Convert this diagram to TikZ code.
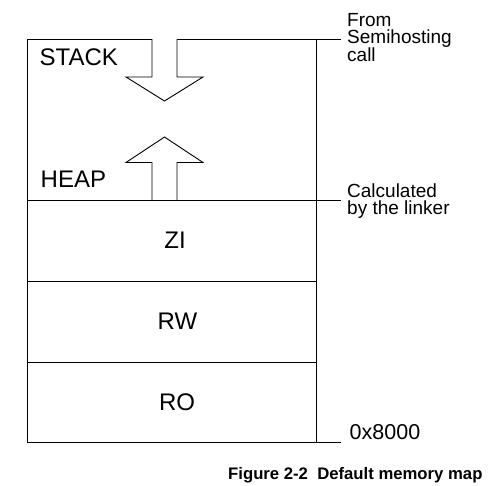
\documentclass[tikz,border=0pt]{standalone}
\usepackage{fontspec}
\setmainfont{Liberation Sans}
\begin{document}
\begin{tikzpicture}[x=1pt,y=-1pt,
  wall/.style={draw=black,line width=0.9pt},
  bigarrow/.style={draw=black,line width=0.9pt,fill=white},
  region/.style={font=\fontsize{24}{24}\selectfont,inner sep=0pt},
  side/.style={font=\fontsize{19}{17}\selectfont,inner sep=0pt,align=left},
  caption/.style={font=\bfseries\fontsize{16.7}{18}\selectfont,inner sep=0pt}]
\useasboundingbox (0,0) rectangle (491,486);
% coordinates
\coordinate (tl) at (27,39);
\coordinate (tr) at (316,39);
\coordinate (te) at (341,39);
\coordinate (hl) at (27,200);
\coordinate (hr) at (316,200);
\coordinate (he) at (341,200);
\coordinate (zl) at (27,281);
\coordinate (zr) at (316,281);
\coordinate (rl) at (27,362);
\coordinate (rr) at (316,362);
\coordinate (bl) at (27,442);
\coordinate (br) at (316,442);
\coordinate (be) at (341,442);
% frame
\draw[wall] (te) -- (tl) -- (bl) -- (be);
\draw[wall] (tr) -- (br);
\draw[wall] (hl) -- (he);
\draw[wall] (zl) -- (zr);
\draw[wall] (rl) -- (rr);
% arrows
\draw[bigarrow] (152,39) -- (152,77) -- (126,77) -- (164.5,101) -- (203,77) -- (177,77) -- (177,39);
\draw[bigarrow] (152,200) -- (152,162.5) -- (126,162.5) -- (164.5,137) -- (203,162.5) -- (177,162.5) -- (177,200);
% labels
\node[region,anchor=base west] (stack) at (39.5,65.5) {STACK};
\node[region,anchor=base west] (heap) at (40.5,188) {HEAP};
\node[region,anchor=base] (zi) at (175,249) {ZI};
\node[region,anchor=base] (rw) at (177.5,330) {RW};
\node[region,anchor=base] (ro) at (177,411) {RO};
\node[side,anchor=base west] (from) at (347,62) {From\\Semihosting\\call};
\node[side,anchor=base west] (calc) at (347,215) {Calculated\\by the linker};
\node[font=\fontsize{21.5}{22}\selectfont,inner sep=0pt,anchor=base west] (addr) at (349.5,440) {0x8000};
\node[caption,anchor=base west] (cap) at (228,479.5) {Figure 2-2\ \ Default memory map};
\end{tikzpicture}
\end{document}
